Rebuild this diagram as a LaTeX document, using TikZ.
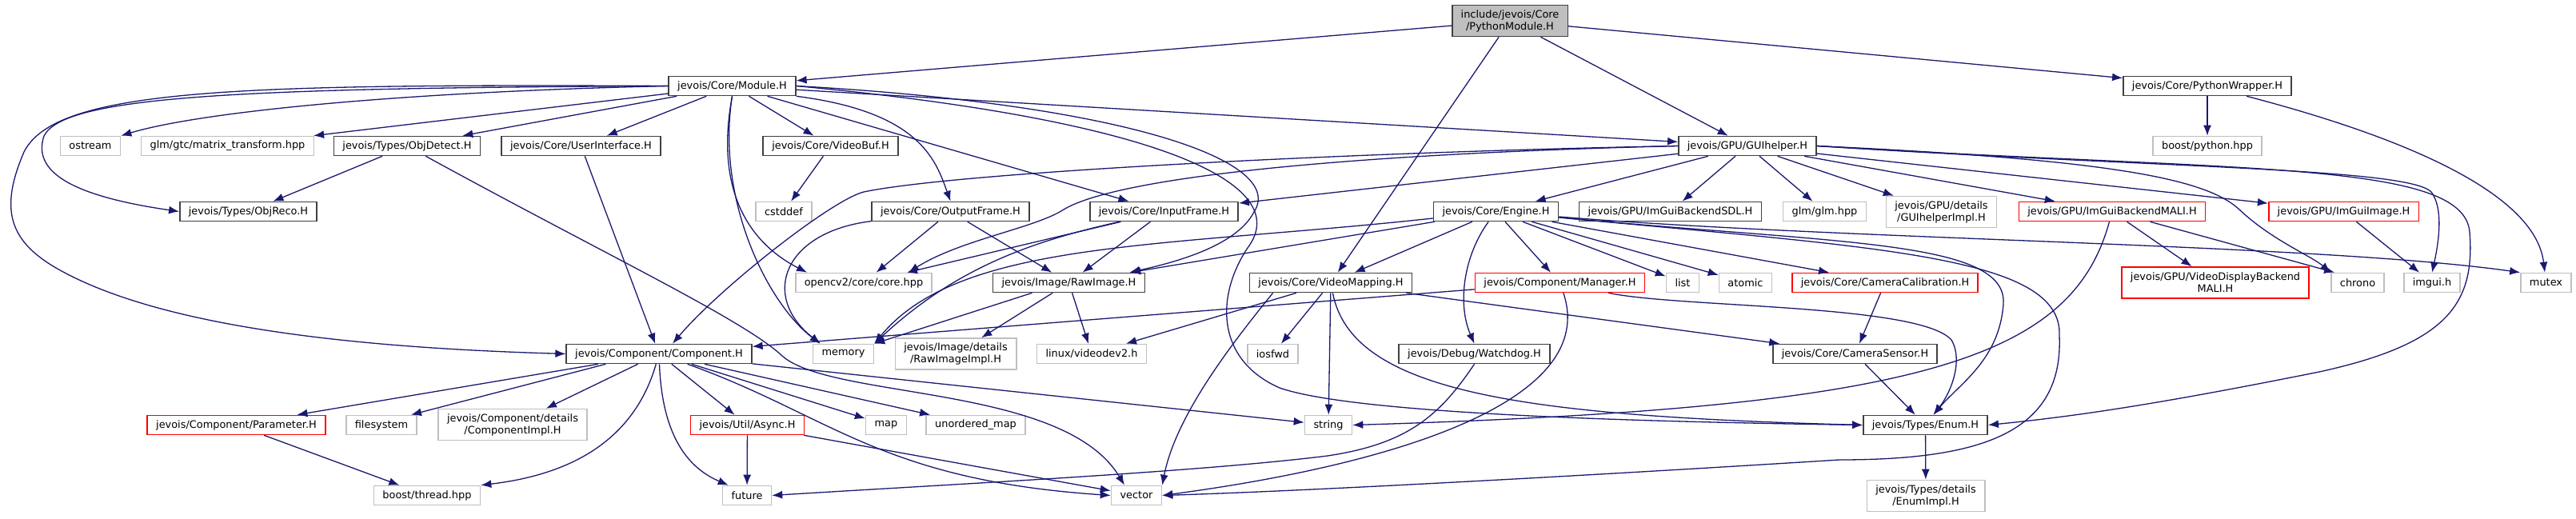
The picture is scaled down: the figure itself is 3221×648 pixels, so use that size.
\documentclass[tikz,border=0pt]{standalone}
\usepackage{fontspec}
\setmainfont{DejaVu Sans}
\usepackage{tikz}
\usetikzlibrary{arrows.meta}
\definecolor{navy}{HTML}{191970}
\definecolor{framegray}{HTML}{404040}
\definecolor{lightframe}{HTML}{BFBFBF}
\definecolor{rootfill}{HTML}{BFBFBF}
\definecolor{partred}{HTML}{FF0000}

\begin{document}
\begin{tikzpicture}[
  x=1pt, y=-1pt,
  header/.style={
    draw=framegray, fill=white, line width=1.6pt, font=\fontsize{12.9}{15}\selectfont,
    minimum height=24pt, inner xsep=11pt, inner ysep=2pt, align=center
  },
  extern/.style={header, draw=lightframe},
  partial/.style={header, draw=partred},
  rootfile/.style={header, fill=rootfill, minimum height=39pt},
  tall/.style={minimum height=39pt},
  arrow/.style={-{Latex[length=13pt, width=10pt]}, line width=1.3pt, color=navy}
]
  \useasboundingbox (0,0) rectangle (3221,648);

  \node[rootfile] (pymod) at (1888,26) {include/jevois/Core\\/PythonModule.H};
  \node[header] (module) at (915.5,107.5) {jevois/Core/Module.H};
  \node[header] (pywrap) at (2760,107.5) {jevois/Core/PythonWrapper.H};

  \node[extern] (ostream) at (113,182.5) {ostream};
  \node[extern] (glmmat) at (284.5,182.5) {glm/gtc/matrix\_transform.hpp};
  \node[header] (objdetect) at (509,182.5) {jevois/Types/ObjDetect.H};
  \node[header] (userif) at (726.5,182.5) {jevois/Core/UserInterface.H};
  \node[header] (videobuf) at (1038.5,182.5) {jevois/Core/VideoBuf.H};
  \node[header] (guihelper) at (2185,182.5) {jevois/GPU/GUIhelper.H};
  \node[extern] (boostpy) at (2760,182.5) {boost/python.hpp};

  \node[header] (objreco) at (310.5,264.5) {jevois/Types/ObjReco.H};
  \node[extern] (cstddef) at (980,264.5) {cstddef};
  \node[header] (outframe) at (1188.5,264.5) {jevois/Core/OutputFrame.H};
  \node[header] (inframe) at (1455.5,264.5) {jevois/Core/InputFrame.H};
  \node[header] (engine) at (1870.5,264.5) {jevois/Core/Engine.H};
  \node[header] (imguisdl) at (2088.5,264.5) {jevois/GPU/ImGuiBackendSDL.H};
  \node[extern] (glm) at (2281.5,264.5) {glm/glm.hpp};
  \node[extern, tall] (guiimpl) at (2427.5,265) {jevois/GPU/details\\/GUIhelperImpl.H};
  \node[partial] (imguimali) at (2641,264.5) {jevois/GPU/ImGuiBackendMALI.H};
  \node[partial] (imguiimage) at (2930.5,264.5) {jevois/GPU/ImGuiImage.H};

  \node[extern] (opencv) at (1080,353.5) {opencv2/core/core.hpp};
  \node[header] (rawimage) at (1336.5,353.5) {jevois/Image/RawImage.H};
  \node[header] (videomap) at (1664,353.5) {jevois/Core/VideoMapping.H};
  \node[partial] (manager) at (1950.5,353.5) {jevois/Component/Manager.H};
  \node[extern] (stdlist) at (2104,353.5) {list};
  \node[extern] (atomic) at (2182.5,353.5) {atomic};
  \node[partial] (camcalib) at (2357,353.5) {jevois/Core/CameraCalibration.H};
  \node[partial, tall] (vdbmali) at (2770,353.5) {jevois/GPU/VideoDisplayBackend\\MALI.H};
  \node[extern] (chrono) at (2948,353.5) {chrono};
  \node[extern] (imguih) at (3041,353.5) {imgui.h};
  \node[extern] (mutex) at (3183.5,353.5) {mutex};

  \node[header] (component) at (824,442.5) {jevois/Component/Component.H};
  \node[extern] (memory) at (1054.5,442.5) {memory};
  \node[extern, tall] (rawimpl) at (1195,442.5) {jevois/Image/details\\/RawImageImpl.H};
  \node[extern] (videodev) at (1365,442.5) {linux/videodev2.h};
  \node[extern] (iosfwd) at (1591.5,442.5) {iosfwd};
  \node[header] (watchdog) at (1843.5,442.5) {jevois/Debug/Watchdog.H};
  \node[header] (camsensor) at (2319.5,442.5) {jevois/Core/CameraSensor.H};

  \node[partial] (parameter) at (295.5,531.5) {jevois/Component/Parameter.H};
  \node[extern] (filesystem) at (477,531.5) {filesystem};
  \node[extern, tall] (compimpl) at (641,531) {jevois/Component/details\\/ComponentImpl.H};
  \node[partial] (async) at (934.5,531.5) {jevois/Util/Async.H};
  \node[extern] (stdmap) at (1108,531.5) {map};
  \node[extern] (umap) at (1220,531.5) {unordered\_map};
  \node[extern] (stdstring) at (1661,531.5) {string};
  \node[header] (enum) at (2407.5,531.5) {jevois/Types/Enum.H};

  \node[extern] (boostthread) at (534,619.5) {boost/thread.hpp};
  \node[extern] (future) at (934,619.5) {future};
  \node[extern] (vector) at (1421,619.5) {vector};
  \node[extern, tall] (enumimpl) at (2408,620) {jevois/Types/details\\/EnumImpl.H};

  \draw[arrow] (pymod) -- (module);
  \draw[arrow] (pymod) -- (guihelper);
  \draw[arrow] (pymod) -- (videomap);
  \draw[arrow] (pymod) -- (pywrap);
  \draw[arrow] (pywrap) -- (boostpy);
  \draw[arrow] (pywrap) .. controls (3000,170) and (3170,240) .. (mutex);

  \draw[arrow] (module.west) .. controls (500,115) and (250,140) .. (ostream.north east);
  \draw[arrow] (module) -- (glmmat);
  \draw[arrow] (module) -- (objdetect);
  \draw[arrow] (module) -- (userif);
  \draw[arrow] (module.west) .. controls (300,110) and (80,120) .. (55,170) .. controls (40,215) and (90,245) .. (objreco.west);
  \draw[arrow] (module.west) .. controls (300,105) and (70,110) .. (30,190) .. controls (0,260) and (10,300) .. (70,335) .. controls (200,410) and (450,435) .. (component.west);
  \draw[arrow] (module) -- (videobuf);
  \draw[arrow] (module.south east) .. controls (1150,140) and (1170,200) .. (outframe.north);
  \draw[arrow] (module) -- (inframe);
  \draw[arrow] (module.south) .. controls (895,250) and (960,380) .. ([xshift=10pt]memory.north west);
  \draw[arrow] (module.south) .. controls (895,230) and (930,300) .. ([xshift=15pt]opencv.north west);
  \draw[arrow] (module.east) .. controls (1400,130) and (1610,200) .. (1568,265) .. controls (1545,310) and (1460,330) .. ([xshift=-20pt]rawimage.north east);
  \draw[arrow] (module.east) .. controls (1450,150) and (1620,230) .. (1560,310) .. controls (1520,370) and (1520,450) .. (1600,485) .. controls (1700,520) and (2100,528) .. (enum.west);
  \draw[arrow] (module) -- (guihelper);

  \draw[arrow] (objdetect) -- (objreco);
  \draw[arrow] (objdetect) .. controls (760,320) and (930,400) .. (978,445) .. controls (1040,500) and (1330,480) .. ([xshift=-15pt]vector.north);
  \draw[arrow] (userif) -- (component);
  \draw[arrow] (videobuf) -- (cstddef);
  \draw[arrow] (outframe) -- (opencv);
  \draw[arrow] (outframe) -- (rawimage);
  \draw[arrow] (outframe) .. controls (980,290) and (950,370) .. ([xshift=10pt]memory.north west);
  \draw[arrow] (inframe) -- (opencv);
  \draw[arrow] (inframe) -- (rawimage);
  \draw[arrow] (inframe) .. controls (1300,300) and (1200,330) .. (memory.north east);

  \draw[arrow] (guihelper.west) .. controls (1700,190) and (1200,215) .. (1080,240) .. controls (1040,250) and (900,360) .. ([xshift=17pt]component.north);
  \draw[arrow] (guihelper.west) .. controls (1700,192) and (1400,220) .. (1330,262) .. controls (1295,285) and (1200,300) .. ([xshift=-30pt]opencv.north east);
  \draw[arrow] (guihelper) -- (inframe);
  \draw[arrow] (guihelper) -- (engine);
  \draw[arrow] (guihelper) -- (imguisdl);
  \draw[arrow] (guihelper) -- (glm);
  \draw[arrow] (guihelper) -- (guiimpl);
  \draw[arrow] (guihelper) -- (imguimali);
  \draw[arrow] (guihelper) -- (imguiimage);
  \draw[arrow] (guihelper.east) .. controls (2650,200) and (2760,225) .. (2800,262) .. controls (2840,300) and (2890,320) .. (chrono.north west);
  \draw[arrow] (guihelper.east) .. controls (2700,210) and (3010,210) .. (3040,240) .. controls (3055,260) and (3050,300) .. (imguih.north);
  \draw[arrow] (guihelper.east) .. controls (2800,215) and (3080,200) .. (3088,290) .. controls (3095,380) and (3060,430) .. (2900,465) .. controls (2700,505) and (2600,520) .. (enum.east);

  \draw[arrow] (engine) -- (rawimage);
  \draw[arrow] (engine) .. controls (1450,310) and (1200,300) .. (memory.north east);
  \draw[arrow] (engine) -- (videomap);
  \draw[arrow] (engine) .. controls (1830,320) and (1822,380) .. (watchdog.north);
  \draw[arrow] (engine) -- (manager);
  \draw[arrow] (engine) -- (stdlist);
  \draw[arrow] (engine) -- (atomic);
  \draw[arrow] (engine) -- (camcalib);
  \draw[arrow] (engine) .. controls (2300,300) and (2900,305) .. (mutex.north west);
  \draw[arrow] (engine) .. controls (2300,305) and (2510,300) .. (2505,380) .. controls (2500,450) and (2450,480) .. ([xshift=10pt]enum.north);
  \draw[arrow] (engine) .. controls (2350,310) and (2580,320) .. (2575,420) .. controls (2580,540) and (2480,575) .. (2300,575) .. controls (1900,600) and (1600,615) .. (vector.east);

  \draw[arrow] (videomap) -- (videodev);
  \draw[arrow] ([xshift=30pt]videomap.south west) .. controls (1540,430) and (1470,520) .. (vector.north east);
  \draw[arrow] (videomap) -- (iosfwd);
  \draw[arrow] (videomap) -- (stdstring);
  \draw[arrow] (videomap) .. controls (1690,490) and (1900,520) .. (enum.west);
  \draw[arrow] (videomap) -- (camsensor);

  \draw[arrow] (manager) -- (component);
  \draw[arrow] (manager) .. controls (2000,500) and (1750,580) .. (vector.east);
  \draw[arrow] (manager) .. controls (2100,385) and (2400,380) .. (2440,425) .. controls (2455,450) and (2440,490) .. ([xshift=10pt]enum.north);
  \draw[arrow] (watchdog.south) .. controls (1800,520) and (1760,555) .. (1660,570) .. controls (1500,590) and (1200,605) .. (future.east);
  \draw[arrow] (camcalib) -- (camsensor);
  \draw[arrow] (camsensor) -- (enum);
  \draw[arrow] (enum) -- (enumimpl);

  \draw[arrow] ([xshift=-46pt]rawimage.south) -- (memory.north east);
  \draw[arrow] (rawimage) -- (rawimpl);
  \draw[arrow] (rawimage) -- (videodev);
  \draw[arrow] (imguimali) -- (vdbmali);
  \draw[arrow] ([xshift=-70pt]imguimali.south east) -- ([xshift=5pt]chrono.north west);
  \draw[arrow] (imguimali) .. controls (2590,450) and (2400,510) .. (stdstring.east);
  \draw[arrow] (imguiimage) -- (imguih);

  \draw[arrow] (component) -- (parameter);
  \draw[arrow] ([xshift=50pt]component.south west) -- ([xshift=-8pt]filesystem.north east);
  \draw[arrow] (component) -- (compimpl);
  \draw[arrow] (component) .. controls (790,560) and (700,595) .. (boostthread.north east);
  \draw[arrow] (component) .. controls (828,545) and (860,585) .. ([xshift=8pt]future.north west);
  \draw[arrow] (component) -- (async);
  \draw[arrow] (component) -- (stdmap);
  \draw[arrow] (component) -- (umap);
  \draw[arrow] (component) .. controls (1040,520) and (1100,600) .. (vector.west);
  \draw[arrow] (component) -- (stdstring);
  \draw[arrow] (parameter) -- (boostthread);
  \draw[arrow] (async) -- (future);
  \draw[arrow] (async) -- (vector);
\end{tikzpicture}
\end{document}
